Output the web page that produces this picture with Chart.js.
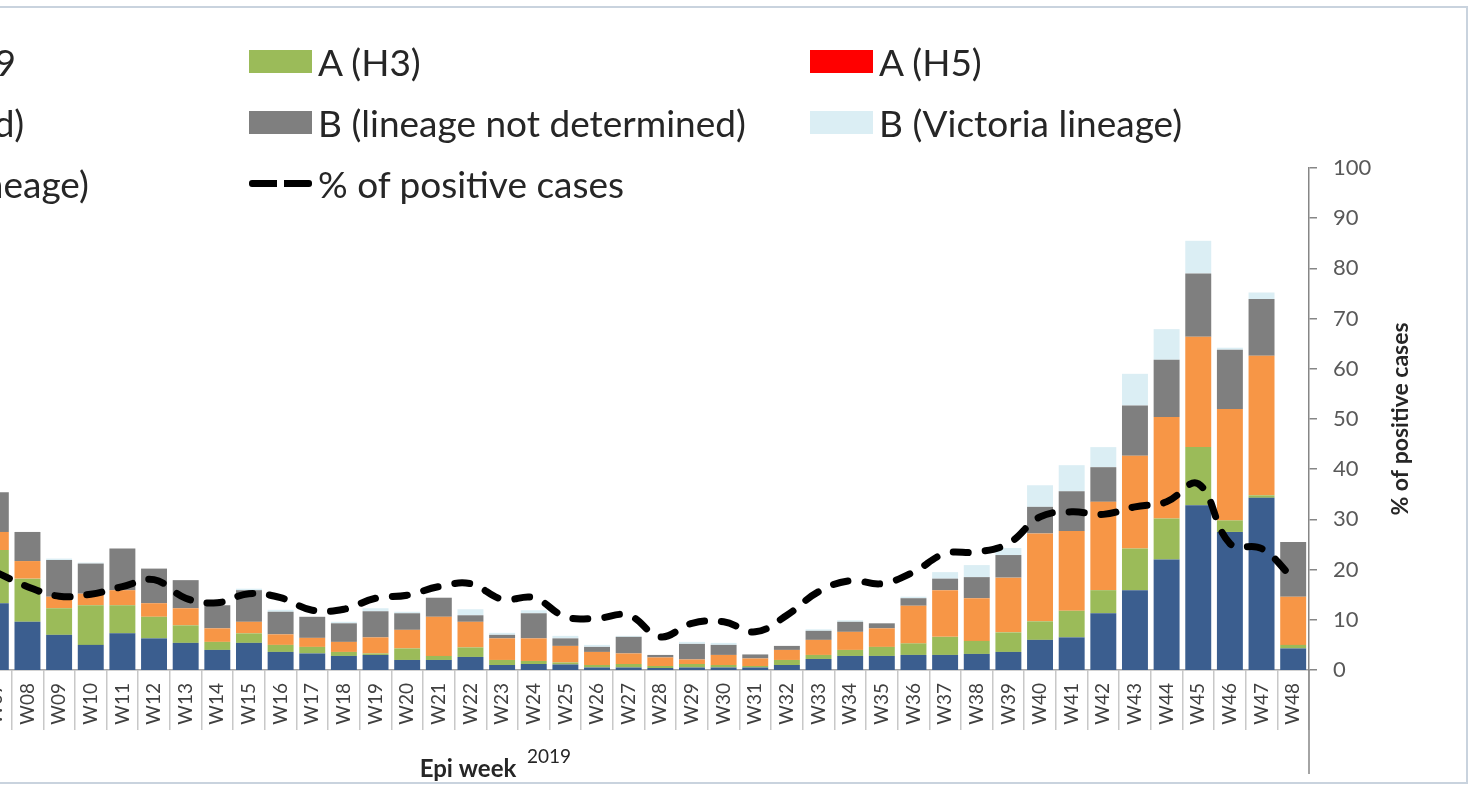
<!DOCTYPE html>
<html>
<head>
<meta charset="utf-8">
<script src="https://cdn.jsdelivr.net/npm/chart.js@4.4.1/dist/chart.umd.min.js"></script>
<style>
html, body { margin: 0; padding: 0; background: #fff; width: 1475px; height: 787px; overflow: hidden; }
#frame { position: absolute; left: -30px; top: 6px; width: 1498px; height: 778px; border: 2px solid #c9d3de; box-sizing: border-box; }
#wrap { position: absolute; left: -20px; top: 0; width: 1495px; height: 787px; }
#legend { position: absolute; left: -312px; top: 31px; display: grid; grid-template-columns: repeat(3, 561px); grid-auto-rows: 61px;
  font-family: Lato, sans-serif; font-size: 37px; color: #262626; }
#legend .item { display: flex; align-items: center; white-space: nowrap; }
#legend .box { width: 63px; height: 23px; margin-right: 6px; flex: none; }
#legend .dash { width: 63px; height: 7px; margin-right: 6px; flex: none;
  background: linear-gradient(to right, #000 0 28px, transparent 28px 35px, #000 35px 63px); border-radius: 3px; }
</style>
</head>
<body>
<div id="frame"></div>
<div id="wrap"><canvas id="chart"></canvas></div>
<div id="legend"></div>
<script>
const weeks = ['W07','W08','W09','W10','W11','W12','W13','W14','W15','W16','W17','W18','W19','W20',
  'W21','W22','W23','W24','W25','W26','W27','W28','W29','W30','W31','W32','W33','W34','W35','W36',
  'W37','W38','W39','W40','W41','W42','W43','W44','W45','W46','W47','W48'];

const h1n1 = [13.3, 9.6, 7.0, 5.0, 7.3, 6.3, 5.4, 4.0, 5.4, 3.6, 3.3, 2.8, 3.0, 2.0, 2.0, 2.6, 1.0, 1.2, 1.1, 0.5, 0.5,
  0.4, 0.5, 0.5, 0.5, 1.0, 2.2, 2.8, 2.8, 3.0, 3.0, 3.2, 3.6, 6.0, 6.5, 11.3, 15.9, 22.0, 32.8, 27.5, 34.3, 4.3];
const h3 = [10.6, 8.6, 5.3, 7.9, 5.6, 4.3, 3.5, 1.6, 1.9, 1.4, 1.3, 0.8, 0.3, 2.3, 0.8, 1.9, 1.0, 0.6, 0.4, 0.5, 0.7,
  0.4, 0.7, 0.5, 0.3, 1.0, 0.8, 1.2, 1.8, 2.3, 3.6, 2.6, 3.9, 3.7, 5.3, 4.6, 8.3, 8.2, 11.6, 2.3, 0.5, 0.7];
const h5 = weeks.map(() => 0);
const aNotSubtyped = [3.6, 3.5, 2.3, 2.3, 3.0, 2.7, 3.4, 2.7, 2.3, 2.1, 1.8, 2.0, 3.2, 3.7, 7.8, 5.1, 4.3, 4.5, 3.3, 2.6, 2.1,
  1.7, 0.9, 2.0, 1.5, 2.0, 3.0, 3.6, 3.7, 7.5, 9.3, 8.5, 10.9, 17.5, 15.9, 17.6, 18.5, 20.2, 22.0, 22.2, 27.8, 9.6];
const bNotDetermined = [7.9, 5.8, 7.3, 6.0, 8.3, 6.9, 5.6, 4.6, 6.3, 4.5, 4.2, 3.7, 5.2, 3.3, 3.8, 1.3, 0.7, 5.0, 1.5, 1.0, 3.3,
  0.5, 3.1, 2.0, 0.8, 0.8, 1.8, 2.0, 1.0, 1.5, 2.3, 4.2, 4.5, 5.3, 7.9, 6.9, 10.0, 11.4, 12.6, 11.8, 11.3, 10.9];
const bVictoria = [0, 0, 0.3, 0.2, 0, 0, 0, 0, 0.3, 0.4, 0, 0.3, 0.6, 0.3, 0, 1.2, 0.4, 0.6, 0.5, 0.4, 0.2,
  0, 0.4, 0.4, 0, 0, 0.3, 0.3, 0, 0.3, 1.3, 2.4, 1.4, 4.3, 5.2, 4.0, 6.3, 6.1, 6.5, 0.4, 1.3, 0];
const bYamagata = weeks.map(() => 0);
const positivePct = [19.5, 16.6, 14.7, 15.1, 16.6, 18.0, 14.3, 13.4, 15.2, 14.4, 11.9, 12.1, 14.3, 14.9, 16.6, 17.2, 14.1, 14.4,
  10.6, 10.3, 10.9, 6.6, 9.3, 9.6, 7.6, 10.9, 15.6, 17.8, 17.2, 19.5, 23.2, 23.5, 25.2, 30.5, 31.5, 31.0, 32.5, 33.5, 37.1,
  25.2, 24.2, 18.2];
const pctTicks = [0, 10, 20, 30, 40, 50, 60, 70, 80, 90, 100];

const barSeries = [
  { label: 'A(H1N1)pdm09', data: h1n1, color: '#3b5e8f' },
  { label: 'A (H3)', data: h3, color: '#9bbb59' },
  { label: 'A (H5)', data: h5, color: '#ff0000' },
  { label: 'A (not subtyped)', data: aNotSubtyped, color: '#f79646' },
  { label: 'B (lineage not determined)', data: bNotDetermined, color: '#7f7f7f' },
  { label: 'B (Victoria lineage)', data: bVictoria, color: '#dbeef4' },
  { label: 'B (Yamagata lineage)', data: bYamagata, color: '#8064a2' }
];
const lineLabel = '% of positive cases';

// html legend, laid out in 3 columns like the original
const legendEl = document.getElementById('legend');
barSeries.forEach(s => {
  legendEl.insertAdjacentHTML('beforeend',
    `<div class="item"><span class="box" style="background:${s.color}"></span>${s.label}</div>`);
});
legendEl.insertAdjacentHTML('beforeend', `<div class="item"><span class="dash"></span>${lineLabel}</div>`);

const extraText = {
  id: 'extraText',
  afterDraw(chart) {
    const { ctx, chartArea } = chart;
    const y1 = chart.scales.y1;
    ctx.save();
    // value axis line continues down through the label area
    ctx.strokeStyle = '#868686';
    ctx.lineWidth = 1.5;
    ctx.beginPath();
    ctx.moveTo(chartArea.right, chartArea.bottom);
    ctx.lineTo(chartArea.right, chartArea.bottom + 104);
    ctx.stroke();

    // axis title reads bottom to top
    ctx.fillStyle = '#262626';
    ctx.font = 'bold 23px Lato, sans-serif';
    ctx.textAlign = 'center';
    ctx.textBaseline = 'middle';
    ctx.translate(y1.left + 92, (y1.top + y1.bottom) / 2);
    ctx.rotate(-Math.PI / 2);
    ctx.fillText(lineLabel, 0, 0);
    ctx.restore();

    ctx.save();
    ctx.fillStyle = '#262626';
    ctx.textBaseline = 'alphabetic';
    ctx.font = 'bold 24px Lato, sans-serif';
    ctx.textAlign = 'center';
    ctx.fillText('Epi week', chartArea.left + 488, 777);
    ctx.font = '19px Lato, sans-serif';
    ctx.textAlign = 'left';
    ctx.fillText('2019', chartArea.left + 547, 763);
    ctx.restore();
  }
};

const datasets = barSeries.map(s => ({
  label: s.label,
  data: s.data,
  backgroundColor: s.color,
  yAxisID: 'y',
  order: 1,
  barPercentage: 0.82,
  categoryPercentage: 1
}));
datasets.push({
  type: 'line',
  label: lineLabel,
  data: positivePct,
  yAxisID: 'y1',
  order: 0,
  borderColor: '#000',
  borderWidth: 7,
  borderDash: [15, 17],
  borderCapStyle: 'round',
  tension: 0.4,
  pointRadius: 0,
  fill: false
});

new Chart(document.getElementById('chart'), {
  type: 'bar',
  data: { labels: weeks, datasets: datasets },
  plugins: [extraText],
  options: {
    responsive: true,
    maintainAspectRatio: false,
    animation: false,
    layout: { padding: { left: 0, right: 56, top: 168, bottom: 5 } },
    plugins: { legend: { display: false }, tooltip: { enabled: false } },
    scales: {
      x: {
        stacked: true,
        offset: true,
        grid: { offset: true, drawOnChartArea: false, tickLength: 60, color: '#c8c8c8', lineWidth: 1.5 },
        border: { color: '#a6a6a6', width: 1.5 },
        ticks: {
          autoSkip: false, minRotation: 90, maxRotation: 90, padding: -47,
          color: '#404040', font: { family: 'Lato', size: 19 }
        },
        afterFit: s => { s.height = 112; }
      },
      y: { stacked: true, display: false, min: 0, max: 100 },
      y1: {
        position: 'right',
        min: 0,
        max: 100,
        afterBuildTicks: s => { s.ticks = pctTicks.map(v => ({ value: v })); },
        grid: { drawOnChartArea: false, tickLength: 8, color: '#868686', lineWidth: 1.5 },
        border: { color: '#868686', width: 1.5 },
        ticks: { padding: 16, color: '#595959', font: { family: 'Lato', size: 22 } },
        afterFit: s => { s.width = 110; }
      }
    }
  }
});
</script>
</body>
</html>
